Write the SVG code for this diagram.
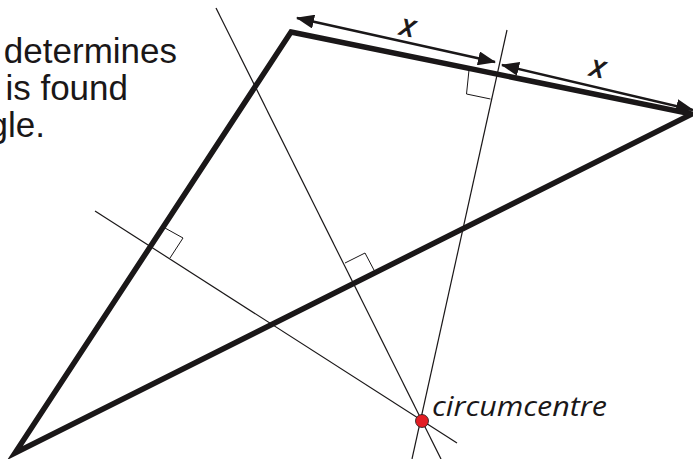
<svg xmlns="http://www.w3.org/2000/svg" width="693" height="459" viewBox="0 0 693 459">
<defs>
<style>
.thick{fill:none;stroke:#1a1718;stroke-width:5.5;stroke-linejoin:miter;stroke-miterlimit:10}
.thin{fill:none;stroke:#1a1718;stroke-width:1.2}
.box{fill:none;stroke:#1a1718;stroke-width:1}
.arrow{fill:none;stroke:#1a1718;stroke-width:2.4}
.body{font-family:"Liberation Sans",Arial,sans-serif;font-size:35px;fill:#1a1718}
.hand{font-family:"Open Sans","DejaVu Sans",sans-serif;font-style:italic;fill:#1a1718}
</style>
<marker id="ah" viewBox="0 0 18 14" refX="17" refY="7" markerWidth="18" markerHeight="14" markerUnits="userSpaceOnUse" orient="auto-start-reverse">
<path d="M0,0 L18,7 L0,14 Z" fill="#1a1718"/>
</marker>
</defs>
<rect width="693" height="459" fill="#ffffff"/>
<g id="caption">
<text class="body" x="177" y="63" text-anchor="end">determines</text>
<text class="body" x="128" y="100" text-anchor="end">is found</text>
<text class="body" x="45" y="137" text-anchor="end">gle.</text>
</g>
<g id="connectors">
<line class="thin" x1="507" y1="30" x2="412" y2="459"/>
<line class="thin" x1="95" y1="211" x2="457" y2="443"/>
<line class="thin" x1="216" y1="8" x2="441" y2="459"/>
<polyline class="box" points="469,70 466.5,94 490.5,99"/>
<polyline class="box" points="345,263 365,253 375,272"/>
<polyline class="box" points="165,228 183,238 170,258"/>
<line class="arrow" x1="297" y1="18" x2="495" y2="62" marker-start="url(#ah)" marker-end="url(#ah)"/>
<line class="arrow" x1="502" y1="65" x2="693" y2="110" marker-start="url(#ah)" marker-end="url(#ah)"/>
</g>
<g id="triangle">
<polygon class="thick" points="291,32 692,114 15,453"/>
</g>
<g id="labels">
<text class="hand" x="408" y="36" font-size="30" stroke="#1a1718" stroke-width="0.9" text-anchor="middle" transform="rotate(12 408 27)">x</text>
<text class="hand" x="598" y="77" font-size="30" stroke="#1a1718" stroke-width="0.9" text-anchor="middle" transform="rotate(12 598 68)">x</text>
</g>
<g id="circumcentre">
<circle cx="422" cy="421" r="6.5" fill="#e31e24" stroke="#1a1718" stroke-width="0.8"/>
<text class="hand" x="432" y="416" font-size="28" textLength="175" lengthAdjust="spacingAndGlyphs">circumcentre</text>
</g>
</svg>
